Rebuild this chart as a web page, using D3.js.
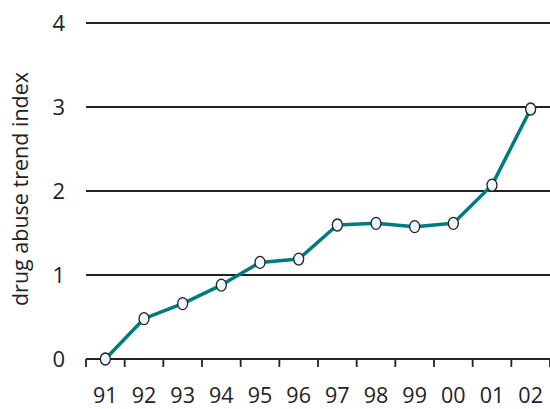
<!DOCTYPE html>
<html><head><meta charset="utf-8">
<script src="https://cdn.jsdelivr.net/npm/d3@7"></script>
<style>body{margin:0;background:#fff}svg{display:block}text{font-family:"Open Sans",sans-serif;fill:#222}</style>
</head><body><svg width="550" height="409"></svg>
<script>
const years = ["91","92","93","94","95","96","97","98","99","00","01","02"];
const values = [0,0.48,0.66,0.88,1.15,1.19,1.595,1.615,1.575,1.615,2.07,2.976];
const yTicks = [0,1,2,3,4];
const yLabel = "drug abuse trend index";

const svg = d3.select("svg");
const x = d3.scaleBand().domain(years).range([86,550]);
const y = d3.scaleLinear().domain([0,4]).range([359,23]);

// gridlines
svg.append("g").selectAll("line").data(yTicks.filter(d=>d>0)).join("line")
  .attr("x1",86).attr("x2",550).attr("y1",d=>y(d)).attr("y2",d=>y(d))
  .attr("stroke","#222").attr("stroke-width",1.8);

// y tick labels
svg.append("g").selectAll("text").data(yTicks).join("text")
  .attr("x",65).attr("y",d=>y(d)+8).attr("text-anchor","end")
  .attr("font-size",22).text(d=>d);

// x axis line
svg.append("line").attr("x1",86).attr("x2",550).attr("y1",359).attr("y2",359)
  .attr("stroke","#222").attr("stroke-width",1.8);
const bounds = years.map(d=>x(d)).concat([550]);
svg.append("g").selectAll("line").data(bounds).join("line")
  .attr("x1",d=>d).attr("x2",d=>d).attr("y1",359).attr("y2",367)
  .attr("stroke","#222").attr("stroke-width",1.8);

svg.append("g").selectAll("text").data(years).join("text")
  .attr("x",d=>x(d)+x.bandwidth()/2).attr("y",403).attr("text-anchor","middle")
  .attr("font-size",21.5).text(d=>d);

// y label
svg.append("text").attr("transform","translate(28,189) rotate(-90)")
  .attr("text-anchor","middle").attr("font-size",21.5).text(yLabel);

const data = years.map((d,i)=>({k:d,v:values[i]}));
svg.append("path").datum(data)
  .attr("d",d3.line().x(d=>x(d.k)+x.bandwidth()/2).y(d=>y(d.v)))
  .attr("fill","none").attr("stroke","#007b80").attr("stroke-width",3.5)
  .attr("stroke-linejoin","round");
svg.append("g").selectAll("ellipse").data(data).join("ellipse")
  .attr("cx",d=>x(d.k)+x.bandwidth()/2).attr("cy",d=>y(d.v))
  .attr("rx",5).attr("ry",6).attr("fill","#eef6fc").attr("stroke","#222").attr("stroke-width",1.3);
</script></body></html>
